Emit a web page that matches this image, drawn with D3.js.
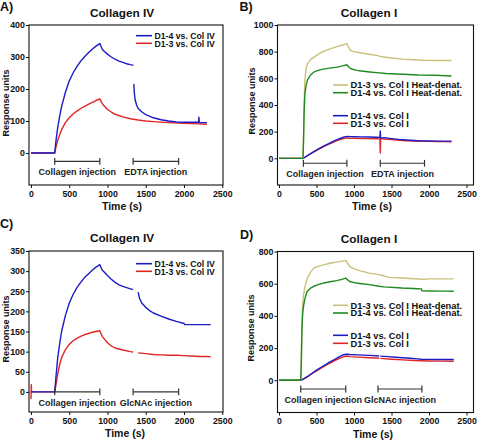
<!DOCTYPE html>
<html><head><meta charset="utf-8">
<script src="https://cdn.jsdelivr.net/npm/d3@7"></script>
<style>
body{margin:0;background:#fff}
svg{display:block}
text{font-family:"Liberation Sans",Arial,Helvetica,sans-serif;font-weight:bold;fill:#111}
</style>
</head><body>
<svg id="chart" width="477" height="440"></svg>
<script>
// ---------------- DATA (time s, response units) ----------------
const xTicks = [0, 500, 1000, 1500, 2000, 2500];
const yTicksA = [0, 100, 200, 300, 400];
const yTicksB = [0, 200, 400, 600, 800, 1000];
const yTicksC = [0, 50, 100, 150, 200, 250, 300, 350];
const yTicksD = [0, 200, 400, 600, 800];

// Panel A: Collagen IV, EDTA
const A_d14 = [[0,0],[310,0],[330,45],[350,80],[375,115],[400,145],[450,190],[500,225],[550,250],[600,270],[650,287],[700,301],[750,313],[800,324],[850,334],[900,342],[930,325],[960,317],[1000,309],[1050,300],[1100,293],[1150,287],[1200,283],[1250,279],[1300,276],[1340,274],[1342,null],[1344,216],[1350,190],[1360,168],[1380,150],[1400,140],[1450,128],[1500,120],[1600,110],[1700,104],[1800,100],[1900,97],[2000,96],[2100,96],[2190,96],[2195,112],[2200,95],[2300,95]];
const A_d13 = [[0,0],[310,0],[330,22],[350,40],[375,57],[400,73],[450,95],[500,110],[550,122],[600,131],[650,139],[700,146],[750,152],[800,158],[850,164],[900,169],[930,155],[960,146],[1000,136],[1050,128],[1100,121],[1200,113],[1300,107],[1400,103],[1500,100],[1600,98],[1800,95],[2000,93],[2200,91],[2300,90]];

// Panel B: Collagen I, EDTA
const B_d13heat = [[0,0],[320,0],[328,200],[335,420],[345,590],[360,670],[380,710],[420,740],[480,765],[550,790],[620,808],[700,825],[780,840],[850,850],[905,860],[925,835],[950,810],[1000,800],[1100,790],[1200,781],[1300,772],[1350,765],[1400,760],[1500,752],[1650,744],[1800,739],[1950,735],[2100,734],[2200,734],[2300,734]];
const B_d14heat = [[0,0],[320,0],[328,150],[335,350],[345,480],[360,545],[380,588],[420,625],[467,648],[554,665],[650,675],[772,684],[850,693],[905,702],[930,685],[960,672],[1034,660],[1100,655],[1209,648],[1300,643],[1427,636],[1645,631],[1863,625],[2081,623],[2300,618]];
const B_d14 = [[0,0],[320,0],[350,10],[400,28],[450,45],[500,62],[550,78],[600,93],[650,107],[700,121],[750,134],[800,146],[850,156],[905,165],[950,163],[1000,162],[1100,161],[1200,160],[1300,158],[1345,157],[1350,205],[1355,150],[1400,155],[1500,148],[1600,142],[1700,138],[1800,134],[1900,131],[2000,130],[2100,129],[2200,129],[2300,129]];
const B_d13 = [[0,0],[320,0],[350,10],[400,27],[450,44],[500,60],[550,75],[600,89],[650,102],[700,115],[750,127],[800,138],[850,147],[905,153],[950,151],[1000,150],[1100,149],[1200,148],[1300,147],[1345,146],[1350,40],[1355,150],[1400,145],[1500,140],[1600,136],[1700,132],[1800,130],[1900,128],[2000,127],[2100,126],[2200,125],[2300,124]];

// Panel C: Collagen IV, GlcNAc
const C_d14 = [[0,0],[310,0],[330,45],[350,85],[375,120],[400,150],[450,190],[500,220],[550,242],[600,259],[650,272],[700,284],[750,293],[800,302],[850,310],[900,316],[930,303],[960,297],[1000,289],[1050,280],[1100,272],[1150,266],[1200,262],[1250,259],[1300,256],[1335,254],[1337,null],[1400,248],[1420,232],[1450,220],[1500,210],[1550,202],[1600,196],[1700,188],[1800,181],[1900,175],[2000,170],[2010,167],[2100,167],[2200,167],[2300,167],[2350,167]];
const C_d13 = [[0,-18],[4,18],[8,0],[310,0],[330,22],[350,45],[375,68],[400,85],[450,105],[500,118],[550,127],[600,133],[650,138],[700,142],[750,145],[800,148],[850,150],[900,152],[930,138],[960,131],[1000,122],[1050,114],[1100,109],[1200,104],[1300,100],[1335,99],[1337,null],[1400,97],[1500,95],[1600,93],[1700,92],[1800,91],[1900,91],[2000,90],[2100,89],[2200,88],[2300,88],[2350,87]];

// Panel D: Collagen I, GlcNAc
const D_d13heat = [[0,0],[290,0],[298,150],[305,350],[315,470],[330,540],[350,590],[376,635],[420,670],[463,697],[520,708],[594,717],[680,727],[768,734],[840,740],[890,745],[910,730],[942,707],[980,697],[1030,687],[1100,678],[1204,666],[1335,656],[1400,648],[1466,639],[1640,635],[1858,629],[1950,627],[1960,630],[2076,630],[2200,630],[2330,630]];
const D_d14heat = [[0,0],[290,0],[298,120],[305,300],[315,410],[330,470],[350,515],[376,553],[420,572],[463,584],[520,594],[594,604],[680,612],[768,619],[840,627],[890,635],[910,625],[942,614],[1030,604],[1100,600],[1204,594],[1335,584],[1400,580],[1640,573],[1858,569],[1900,568],[1905,556],[2000,555],[2200,554],[2330,553]];
const D_d14 = [[0,0],[290,0],[350,15],[400,30],[450,47],[500,63],[550,78],[600,92],[650,106],[700,119],[750,132],[800,145],[850,157],[890,162],[950,160],[1050,158],[1200,155],[1335,151],[1342,null],[1350,150],[1450,147],[1550,143],[1650,140],[1750,137],[1850,133],[1900,131],[2000,130],[2100,129],[2200,129],[2330,129]];
const D_d13 = [[0,0],[290,0],[350,14],[400,28],[450,44],[500,59],[550,73],[600,87],[650,100],[700,112],[750,124],[800,135],[850,144],[890,150],[950,147],[1050,144],[1200,140],[1335,137],[1342,null],[1350,136],[1500,131],[1650,127],[1800,123],[1900,121],[2000,120],[2150,119],[2330,118]];

// injection windows [start, end] (s) and label
const injA = [[310, 900, "Collagen injection"], [1335, 1930, "EDTA injection"]];
const injB = [[325, 905, "Collagen injection"], [1350, 1940, "EDTA injection"]];
const injC = [[310, 900, "Collagen injection"], [1335, 1930, "GlcNAc injection"]];
const injD = [[290, 890, "Collagen injection"], [1320, 1905, "GlcNAc injection"]];

// ---------------- STYLE / LAYOUT ----------------
const COL = {blue:"#1c1cc4", red:"#e02626", tan:"#c9c07a", green:"#1f8a1f"};

const panels = [
  {tag:"A)", tagPos:[0,10.5], title:"Collagen IV", titlePos:[122,16.5],
   frame:[29,223,25,185], xDom:[-26,2510], yDom:[-100,400], yTicks:yTicksA,
   ylab:[8.5,103], xlab:[122,210], bracketY:-26, inj:injA,
   series:[{d:A_d13,c:COL.red},{d:A_d14,c:COL.blue}],
   legend:{x0:136,x1:152,tx:154.5,fs:8.7,rows:[[35.7,"D1-4 vs. Col IV",COL.blue],[43.3,"D1-3 vs. Col IV",COL.red]]}},
  {tag:"B)", tagPos:[239.5,11], title:"Collagen I", titlePos:[369,16.5],
   frame:[277.5,473.5,25,185], xDom:[-20,2593], yDom:[-200,1000], yTicks:yTicksB,
   ylab:[255,101], xlab:[372,210], bracketY:-37, inj:injB,
   series:[{d:B_d13,c:COL.red},{d:B_d14,c:COL.blue},{d:B_d13heat,c:COL.tan},{d:B_d14heat,c:COL.green}],
   legend:{x0:333,x1:348,tx:350.5,fs:9.3,rows:[[85,"D1-3 vs. Col I Heat-denat.",COL.tan],[92.7,"D1-4 vs. Col I Heat-denat.",COL.green],[115.7,"D1-4 vs. Col I",COL.blue],[123.3,"D1-3 vs. Col I",COL.red]]}},
  {tag:"C)", tagPos:[0,228], title:"Collagen IV", titlePos:[122,241.5],
   frame:[29,223,251,412], xDom:[-26,2510], yDom:[-50,350], yTicks:yTicksC,
   ylab:[8.5,329], xlab:[125,436.5], bracketY:0, inj:injC,
   series:[{d:C_d13,c:COL.red},{d:C_d14,c:COL.blue}],
   legend:{x0:136,x1:152,tx:154.5,fs:8.7,rows:[[263.7,"D1-4 vs. Col IV",COL.blue],[271.3,"D1-3 vs. Col IV",COL.red]]}},
  {tag:"D)", tagPos:[240,238.5], title:"Collagen I", titlePos:[369,243],
   frame:[277.5,473.5,251.5,412.5], xDom:[-20,2593], yDom:[-200,800], yTicks:yTicksD,
   ylab:[254,328], xlab:[373,437.5], bracketY:-54, inj:injD,
   series:[{d:D_d13,c:COL.red},{d:D_d14,c:COL.blue},{d:D_d13heat,c:COL.tan},{d:D_d14heat,c:COL.green}],
   legend:{x0:333,x1:348,tx:350.5,fs:9.3,rows:[[305.3,"D1-3 vs. Col I Heat-denat.",COL.tan],[313,"D1-4 vs. Col I Heat-denat.",COL.green],[335.3,"D1-4 vs. Col I",COL.blue],[343.3,"D1-3 vs. Col I",COL.red]]}}
];

const svg = d3.select("#chart");
const fmt = d3.format("d");

panels.forEach(p => {
  const [L,R,T,B] = p.frame;
  const x = d3.scaleLinear().domain(p.xDom).range([L,R]);
  const y = d3.scaleLinear().domain(p.yDom).range([B,T]);
  const g = svg.append("g");

  // axes (ticks only) + frame
  const ax = g.append("g").attr("transform",`translate(0,${B})`)
    .call(d3.axisBottom(x).tickValues(xTicks).tickFormat(fmt).tickSize(3).tickPadding(2.5).tickSizeOuter(0));
  const ay = g.append("g").attr("transform",`translate(${L},0)`)
    .call(d3.axisLeft(y).tickValues(p.yTicks).tickFormat(fmt).tickSize(3).tickPadding(1.2).tickSizeOuter(0));
  [ax,ay].forEach(a=>{
    a.select(".domain").remove();
    a.selectAll("line").attr("stroke","#111").attr("stroke-width",1);
    a.selectAll("text").attr("font-size",8.8).attr("font-weight","bold")
      .attr("font-family",'"Liberation Sans",Arial,sans-serif').attr("fill","#111");
  });
  g.append("rect").attr("x",L).attr("y",T).attr("width",R-L).attr("height",B-T)
    .attr("fill","none").attr("stroke","#111").attr("stroke-width",1.1);

  // series
  const line = d3.line().defined(d=>d[1]!==null).x(d=>x(d[0])).y(d=>y(d[1]));
  p.series.forEach(s=>{
    g.append("path").datum(s.d).attr("d",line).attr("fill","none")
      .attr("stroke",s.c).attr("stroke-width",1.4).attr("stroke-linejoin","round");
  });

  // injection brackets
  const by = y(p.bracketY);
  p.inj.forEach(([t0,t1,lab])=>{
    const x0=x(t0), x1=x(t1);
    g.append("line").attr("x1",x0).attr("x2",x1).attr("y1",by).attr("y2",by).attr("stroke","#333").attr("stroke-width",1.2);
    [x0,x1].forEach(xx=>g.append("line").attr("x1",xx).attr("x2",xx).attr("y1",by-3.4).attr("y2",by+3.4).attr("stroke","#333").attr("stroke-width",1.2));
    g.append("text").attr("x",(x0+x1)/2).attr("y",by+13.8).attr("text-anchor","middle")
      .attr("font-size",9).style("fill","#222").text(lab);
  });

  // legend
  const lg = p.legend;
  lg.rows.forEach(([ry,lab,c])=>{
    g.append("line").attr("x1",lg.x0).attr("x2",lg.x1).attr("y1",ry).attr("y2",ry).attr("stroke",c).attr("stroke-width",1.6);
    g.append("text").attr("x",lg.tx).attr("y",ry+3.3).attr("font-size",lg.fs).text(lab);
  });

  // titles and labels
  g.append("text").attr("x",p.tagPos[0]).attr("y",p.tagPos[1]).attr("font-size",12.5).text(p.tag);
  g.append("text").attr("x",p.titlePos[0]).attr("y",p.titlePos[1]).attr("text-anchor","middle").attr("font-size",11.8).text(p.title);
  g.append("text").attr("transform",`translate(${p.ylab[0]},${p.ylab[1]}) rotate(-90)`).attr("text-anchor","middle").attr("font-size",9).text("Response units");
  g.append("text").attr("x",p.xlab[0]).attr("y",p.xlab[1]).attr("text-anchor","middle").attr("font-size",10.5).text("Time (s)");
});
</script>
</body></html>
